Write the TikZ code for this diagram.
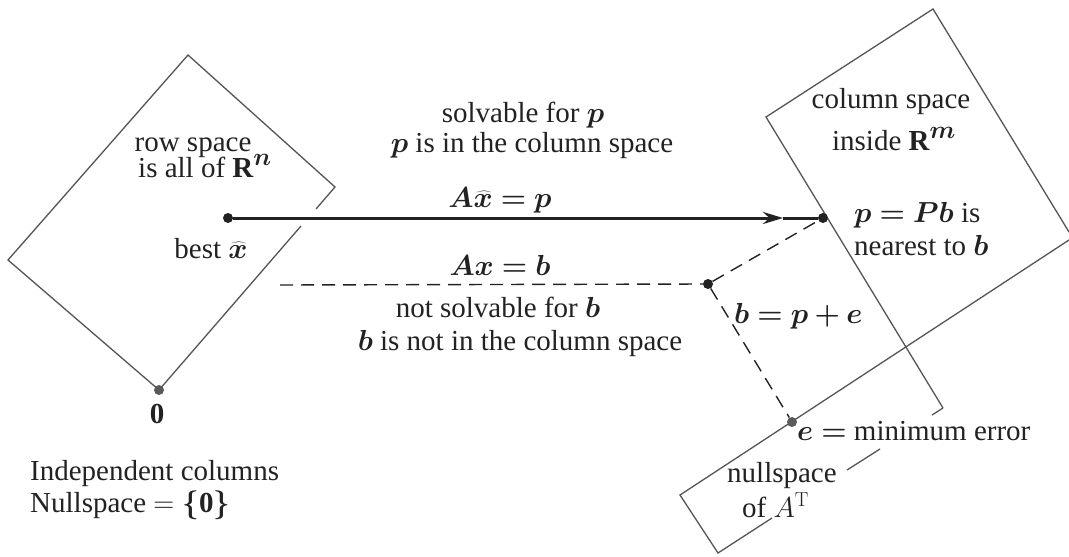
\RequirePackage{fix-cm}
\documentclass[tikz,border=0pt]{standalone}
\usepackage{bm}
\usepackage[no-math]{fontspec}
\setmainfont{Liberation Serif}
\usetikzlibrary{arrows.meta}
\definecolor{inkc}{HTML}{222222}
\definecolor{framegray}{HTML}{555555}
\definecolor{dotgray}{HTML}{5A5A5A}
\newcommand{\bigsup}[1]{^{\mbox{\fontsize{25}{25}\selectfont$\bm{#1}$}}}
\begin{document}
\begin{tikzpicture}[x=1pt,y=-1pt,
  frame/.style={draw=framegray, line width=1.3pt, line join=miter},
  dashline/.style={draw=inkc, line width=1.4pt, dash pattern=on 13pt off 8pt},
  arrowline/.style={draw=inkc, line width=3pt},
  dot/.style={circle, fill=inkc, inner sep=0pt, minimum size=10pt},
  gdot/.style={circle, fill=dotgray, inner sep=0pt, minimum size=10pt},
  lbl/.style={font=\fontsize{29}{26}\selectfont, text=inkc, inner sep=0pt},
]
\useasboundingbox (0,0) rectangle (1069,557);
\fill[white] (0,0) rectangle (1069,557);

% row space (left plane)
\draw[frame] (316,209) -- (335,187) -- (188,55) -- (8,260) -- (159,390) -- (301,226);

% column space plane
\draw[frame] (943,408) -- (766,117) -- (933,9) -- (1069,232);

% nullspace of A^T plane
\draw[frame] (1069,240) -- (680,495) -- (718,553) -- (772,518);
\draw[frame] (847,470) -- (880,449);
\draw[frame] (932,415) -- (943,408);

% points
\node[dot] (xhat) at (228,218) {};
\node[dot] (p) at (823,218) {};
\node[dot] (b) at (708,284) {};
\node[gdot] (e) at (792,422) {};
\node[gdot] (zero) at (159,390) {};
\coordinate (tip) at (783,218);
\coordinate (axstart) at (280,285);

% connectors
\draw[arrowline, -{Stealth[length=20pt,width=12pt]}] (xhat) -- (tip);
\draw[arrowline] (tip) -- (p);
\draw[dashline] (axstart) -- (b);
\draw[dashline] (b) -- (p);
\draw[dashline] (b) -- (e);

% labels
\node[lbl, anchor=base] (rs) at (193,151) {row space};
\node[lbl, anchor=base west] (ial) at (138,177) {is all of $\textbf{R}\bigsup{n}$};
\node[lbl, anchor=base] (best) at (211,258) {best $\bm{\widehat{x}}$};
\node[lbl, anchor=base] (zerol) at (157,423) {\textbf{0}};
\node[lbl, anchor=base west] (ind) at (30,480) {Independent columns};
\node[lbl, anchor=base west] (nul) at (30,512) {Nullspace $=\bm{\{}\textbf{0}\bm{\}}$};

\node[lbl, anchor=base] (sol) at (523,122) {solvable for $\bm p$};
\node[lbl, anchor=base] (pin) at (532,152) {$\bm p$ is in the column space};
\node[lbl, anchor=base] (axp) at (500,207) {$\bm{A\widehat{x}=p}$};
\node[lbl, anchor=base] (axb) at (500,275) {$\bm{Ax=b}$};
\node[lbl, anchor=base] (nsol) at (498,317) {not solvable for $\bm b$};
\node[lbl, anchor=base] (bnot) at (520,350) {$\bm b$ is not in the column space};

\node[lbl, anchor=base] (cs) at (891,108) {column space};
\node[lbl, anchor=base] (ins) at (894,150) {inside $\textbf{R}\bigsup{m}$};
\node[lbl, anchor=base west] (ppb) at (854,222) {$\bm{p=Pb}$ is};
\node[lbl, anchor=base west] (near) at (854,255) {nearest to $\bm b$};
\node[lbl, anchor=base west] (bpe) at (734,323) {$\bm{b=p+e}$};
\node[lbl, anchor=base west] (emin) at (797,440) {$\bm{e=}$ minimum error};
\node[lbl, anchor=base west] (ns) at (727,482) {nullspace};
\node[lbl, anchor=base west] (ofat) at (742,517) {of $A^{\mathrm{T}}$};
\end{tikzpicture}
\end{document}
